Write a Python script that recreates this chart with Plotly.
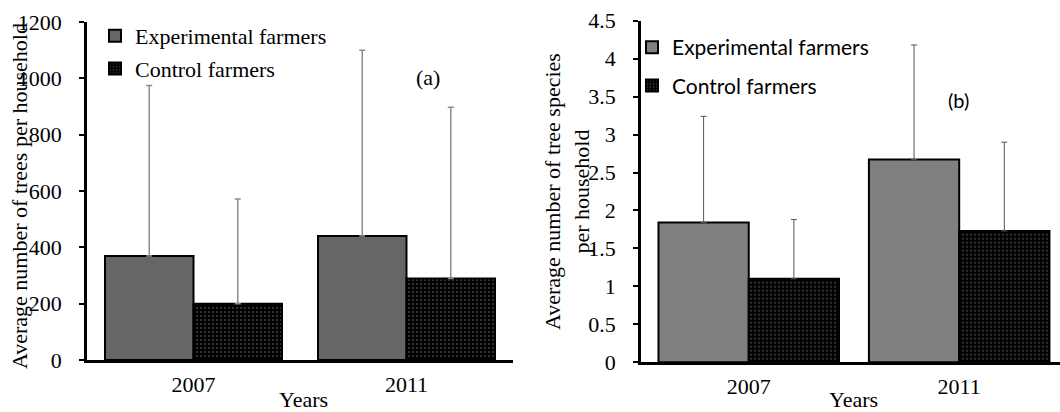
import plotly.graph_objects as go

years = ["2007", "2011"]
series_names = ["Experimental farmers", "Control farmers"]

# Panel (a): average number of trees per household
trees_exp = [369, 440]
trees_ctrl = [200, 289]
trees_exp_err = [606, 660]
trees_ctrl_err = [372, 608]

# Panel (b): average number of tree species per household
species_exp = [1.84, 2.67]
species_ctrl = [1.10, 1.73]
species_exp_err = [1.40, 1.51]
species_ctrl_err = [0.78, 1.17]

y_ticks_a = [0, 200, 400, 600, 800, 1000, 1200]
y_ticks_b = [0, 0.5, 1, 1.5, 2, 2.5, 3, 3.5, 4, 4.5]

SERIF = "Liberation Serif, Times New Roman, serif"
SANS = "Lato, Open Sans, sans-serif"
FS = 22

W, H = 1060, 412
fig = go.Figure()

wa = 0.4155
wb = 0.429
dots = dict(shape=".", fgcolor="#8a8a8a", bgcolor="black", size=4, solidity=0.18)

# Panel a
fig.add_trace(go.Bar(
    x=years, y=trees_exp, name=series_names[0], width=wa, offset=-wa,
    marker=dict(color="#666666", line=dict(color="black", width=2)),
    error_y=dict(type="data", array=trees_exp_err, arrayminus=[0, 0], symmetric=False,
                 color="#8c8c8c", thickness=1.5, width=3),
    xaxis="x", yaxis="y", legend="legend", legendgroup="a1"))
fig.add_trace(go.Bar(
    x=years, y=trees_ctrl, name=series_names[1], width=wa, offset=0,
    marker=dict(color="black", line=dict(color="black", width=2), pattern=dots),
    error_y=dict(type="data", array=trees_ctrl_err, arrayminus=[0, 0], symmetric=False,
                 color="#8c8c8c", thickness=1.5, width=3),
    xaxis="x", yaxis="y", legend="legend", legendgroup="a2"))

# Panel b
fig.add_trace(go.Bar(
    x=years, y=species_exp, name=series_names[0], width=wb, offset=-wb,
    marker=dict(color="#808080", line=dict(color="black", width=2)),
    error_y=dict(type="data", array=species_exp_err, arrayminus=[0, 0], symmetric=False,
                 color="#555555", thickness=1, width=3),
    xaxis="x2", yaxis="y2", legend="legend2", legendgroup="b1"))
fig.add_trace(go.Bar(
    x=years, y=species_ctrl, name=series_names[1], width=wb, offset=0,
    marker=dict(color="black", line=dict(color="black", width=2), pattern=dots),
    error_y=dict(type="data", array=species_ctrl_err, arrayminus=[0, 0], symmetric=False,
                 color="#555555", thickness=1, width=3),
    xaxis="x2", yaxis="y2", legend="legend2", legendgroup="b2"))

axis_common = dict(showgrid=False, zeroline=False, showline=True, linecolor="black",
                   linewidth=2.5, color="black", automargin=False)


def label(text, x, y, family=SERIF, size=FS, angle=0):
    return dict(text=text, x=x / W, y=1 - y / H, xref="paper", yref="paper",
                xanchor="center", yanchor="middle", textangle=angle, showarrow=False,
                font=dict(family=family, size=size, color="black"))


fig.update_layout(
    width=W, height=H, margin=dict(l=0, r=0, t=0, b=0, pad=0, autoexpand=False),
    paper_bgcolor="white", plot_bgcolor="white",
    barmode="overlay",
    font=dict(family=SERIF, size=FS, color="black"),
    xaxis=dict(domain=[87 / W, 513 / W], range=[-0.5, 1.5], anchor="y",
               ticks="", tickfont=dict(family=SERIF, size=FS), ticklabelstandoff=3,
               **axis_common),
    yaxis=dict(domain=[1 - 360 / H, 1 - 22 / H], range=[0, 1200], anchor="x",
               tickvals=y_ticks_a, ticks="outside", ticklen=5, tickwidth=2, tickcolor="black",
               tickfont=dict(family=SERIF, size=FS), ticklabelstandoff=13, **axis_common),
    xaxis2=dict(domain=[641 / W, 1.0], range=[-0.512, 1.479], anchor="y2",
                ticks="", tickfont=dict(family=SERIF, size=FS), ticklabelstandoff=3,
                **axis_common),
    yaxis2=dict(domain=[1 - 362.3 / H, 1 - 20.7 / H], range=[0, 4.5], anchor="x2",
                tickvals=y_ticks_b, ticks="outside", ticklen=5, tickwidth=2, tickcolor="black",
                tickfont=dict(family=SERIF, size=FS), ticklabelstandoff=13, **axis_common),
    legend=dict(x=95 / W, y=1 - 15 / H, xanchor="left", yanchor="top",
                bgcolor="rgba(0,0,0,0)", font=dict(family=SERIF, size=FS),
                traceorder="grouped", tracegroupgap=1, itemwidth=30),
    legend2=dict(x=632 / W, y=1 - 27 / H, xanchor="left", yanchor="top",
                 bgcolor="rgba(0,0,0,0)", font=dict(family=SANS, size=21),
                 traceorder="grouped", tracegroupgap=8, itemwidth=30),
    annotations=[
        label("(a)", 428, 77),
        label("(b)", 958, 100, family=SANS, size=20),
        label("Years", 303, 399),
        label("Years", 853, 399),
        label("Average number of trees per household", 19, 196, angle=-90),
        label("Average number of tree species<br>per household", 567, 192, angle=-90),
    ],
)

fig.write_html("out.html")
